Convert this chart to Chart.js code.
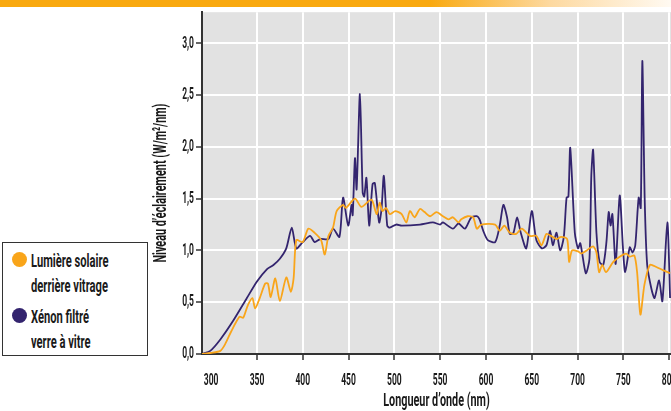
<!DOCTYPE html>
<html>
<head>
<meta charset="utf-8">
<script src="https://cdn.jsdelivr.net/npm/chart.js@4.4.1/dist/chart.umd.min.js"></script>
<style>
  body { margin: 0; background: #fff; }
  #wrap { position: relative; width: 671px; height: 411px; overflow: hidden; }
  #banner {
    position: absolute; left: 0; top: 0; width: 671px; height: 7px; z-index: 2;
    background: linear-gradient(to right, #f9a90f 0%, #f9a90f 64%, #fdd9a0 82%, #fffaf2 100%);
  }
  #legend {
    position: absolute; left: 2px; top: 242px; width: 146px; height: 114px;
    border: 1px solid #333; background: #fff; box-sizing: border-box;
    font-family: Roboto, sans-serif; font-weight: 700;
    font-size: 18px; color: #1a1a1a;
  }
  .item { position: absolute; left: 28px; line-height: 25px; }
  .item span.txt { display: inline-block; transform: scaleX(0.62); transform-origin: left center; white-space: nowrap; }
  .dot { position: absolute; left: -19px; top: 4px; width: 15px; height: 15px; border-radius: 50%; }
</style>
</head>
<body>
<div id="wrap">
  <canvas id="spectrumChart" width="671" height="411"></canvas>
  <div id="banner"></div>
  <div id="legend">
    <div class="item" style="top:5px"><span class="dot" style="background:#f9a51a"></span><span class="txt">Lumière solaire</span><br><span class="txt">derrière vitrage</span></div>
    <div class="item" style="top:61px"><span class="dot" style="background:#33246e"></span><span class="txt">Xénon filtré</span><br><span class="txt">verre à vitre</span></div>
  </div>
</div>
<script>
// Lumière solaire derrière vitrage
const solarNm = [290, 300, 310, 315, 322, 331, 335, 340, 345, 348, 353, 359, 362, 365, 370, 375, 382, 387, 390, 393,
  400, 406, 413, 420, 424, 428, 433, 437, 444, 447, 457, 464, 475, 480.6, 484, 487, 491, 495, 501, 508,
  513, 517, 522, 528, 533, 539, 546, 553, 559, 564, 570, 573, 580, 586, 590, 595, 610, 615, 620, 626,
  633, 639, 648, 655, 660.6, 666, 671, 677, 682, 688.6, 690.8, 694, 700.6, 704, 710, 717, 720.6, 723.5, 727, 731,
  739, 746, 753, 757, 762, 765, 768.6, 773, 779, 786, 793, 801];
const solarLevel = [0, 0.01, 0.03, 0.09, 0.22, 0.36, 0.35, 0.47, 0.54, 0.44, 0.54, 0.68, 0.68, 0.55, 0.73, 0.51, 0.74, 0.60, 0.73, 1.10,
  1.08, 1.21, 1.17, 1.10, 0.96, 1.14, 1.22, 1.38, 1.44, 1.41, 1.50, 1.42, 1.49, 1.35, 1.46, 1.38, 1.41, 1.35, 1.38, 1.35,
  1.27, 1.38, 1.32, 1.40, 1.37, 1.33, 1.37, 1.33, 1.30, 1.32, 1.27, 1.30, 1.33, 1.32, 1.21, 1.25, 1.25, 1.19, 1.24, 1.17,
  1.16, 1.21, 1.14, 1.14, 1.05, 1.16, 1.14, 1.11, 1.13, 1.11, 0.89, 1.00, 0.99, 0.97, 1.00, 1.04, 0.98, 0.79, 0.86, 0.79,
  0.89, 0.94, 0.97, 0.94, 0.95, 0.79, 0.38, 0.67, 0.86, 0.84, 0.81, 0.78];

// Xénon filtré verre à vitre
const xenonNm = [290, 299, 310, 324, 339, 350, 361, 368, 375, 382, 388, 393, 400, 408, 413, 419, 428, 433, 440, 444,
  449.6, 453.3, 454.5, 457, 458.8, 462.4, 465.4, 467.1, 469.5, 472.5, 476.2, 478.7, 483.4, 486, 488.5, 492.2, 495, 502, 508, 528,
  542, 550, 553, 564, 570, 577, 584, 590, 593, 597, 602, 610, 615, 619, 623, 626, 630, 634, 638, 644,
  650, 655, 661, 666, 670, 673, 677, 681, 685, 688, 690, 692, 697, 700.5, 703, 709, 713, 715, 717, 720.6,
  724, 728, 731.5, 734, 736, 738, 741.6, 746, 749.6, 752, 757, 760, 763, 766.7, 769, 770.7, 773.3, 776, 780.6, 784,
  789, 792.6, 798, 801];
const xenonLevel = [0, 0.03, 0.14, 0.32, 0.54, 0.70, 0.82, 0.86, 0.92, 1.02, 1.22, 1.02, 1.08, 1.14, 1.08, 1.11, 1.11, 1.21, 1.13, 1.51,
  1.24, 1.44, 1.34, 1.89, 1.59, 2.51, 1.56, 1.52, 1.70, 1.24, 1.64, 1.65, 1.27, 1.40, 1.72, 1.24, 1.22, 1.25, 1.24, 1.25,
  1.27, 1.25, 1.27, 1.21, 1.26, 1.21, 1.32, 1.33, 1.30, 1.19, 1.10, 1.08, 1.24, 1.44, 1.32, 1.16, 1.17, 1.32, 1.17, 1.02,
  1.38, 1.10, 1.02, 1.05, 1.19, 1.05, 1.17, 1.00, 1.13, 1.51, 1.52, 1.99, 1.17, 1.02, 1.07, 0.78, 0.92, 1.72, 1.97, 1.17,
  0.89, 0.86, 1.08, 1.37, 1.24, 1.35, 0.87, 1.53, 1.02, 0.79, 1.03, 0.98, 1.05, 1.51, 1.41, 2.83, 1.49, 0.86, 0.63, 0.54,
  0.71, 0.51, 1.27, 0.54];

const xTicks = [300, 350, 400, 450, 500, 550, 600, 650, 700, 750, 800];
const yTicks = [0, 0.5, 1, 1.5, 2, 2.5, 3];

const toPoints = (xs, ys) => xs.map((x, i) => ({ x: x, y: ys[i] }));
const fontFamily = "Roboto, sans-serif";

const ctx = document.getElementById("spectrumChart").getContext("2d");

// the original uses a condensed typeface: squeeze labels horizontally
// (fillText maxWidth keeps the alignment). Bigger fonts get squeezed a bit less.
const rawFillText = ctx.fillText;
ctx.fillText = function (text, x, y, maxWidth) {
  const size = parseFloat((this.font.match(/(\d+(\.\d+)?)px/) || [0, 16])[1]);
  const squeeze = size >= 19 ? 0.57 : 0.5;
  const w = this.measureText(text).width * squeeze;
  return rawFillText.call(this, text, x, y, maxWidth === undefined ? w : Math.min(maxWidth, w));
};

// grey plotting area behind the grid
const plotBackground = {
  id: "plotBackground",
  beforeDraw(chart) {
    const a = chart.chartArea;
    chart.ctx.save();
    chart.ctx.fillStyle = "#e2e2e2";
    chart.ctx.fillRect(a.left, a.top, a.right - a.left, a.bottom - a.top);
    chart.ctx.restore();
  }
};

new Chart(ctx, {
  type: "line",
  data: {
    datasets: [{
      label: "Lumière solaire derrière vitrage",
      data: toPoints(solarNm, solarLevel),
      borderColor: "#f9a51a",
      borderWidth: 1.8,
      pointRadius: 0,
      tension: 0.25
    }, {
      label: "Xénon filtré verre à vitre",
      data: toPoints(xenonNm, xenonLevel),
      borderColor: "#33246e",
      borderWidth: 1.8,
      pointRadius: 0,
      tension: 0.25
    }]
  },
  options: {
    responsive: false,
    devicePixelRatio: 1,
    animation: false,
    layout: { padding: { left: 150, top: 7, right: 0, bottom: 0 } },
    plugins: {
      legend: { display: false },
      tooltip: { enabled: false }
    },
    scales: {
      x: {
        type: "linear",
        min: 290,
        max: 802,
        afterBuildTicks: scale => { scale.ticks = xTicks.map(v => ({ value: v })); },
        afterFit: scale => { scale.height = 57; scale.paddingLeft = 0; scale.paddingRight = 0; },
        border: { color: "#333", width: 2 },
        grid: {
          color: c => (c.tick && c.tick.value === 300 ? "rgba(0,0,0,0)" : "#ffffff"),
          tickColor: c => (c.tick && c.tick.value === 300 ? "rgba(0,0,0,0)" : "#333"),
          lineWidth: 2,
          tickLength: 6,
          tickWidth: 1.5
        },
        ticks: {
          color: "#1a1a1a",
          font: { family: fontFamily, size: 17, weight: "700" },
          padding: 11,
          maxRotation: 0,
          autoSkip: false
        },
        title: {
          display: true,
          text: "Longueur d’onde (nm)",
          color: "#1a1a1a",
          font: { family: fontFamily, size: 19, weight: "700" },
          padding: { top: 0, bottom: -2 }
        }
      },
      y: {
        min: 0,
        max: 3.3,
        afterBuildTicks: scale => { scale.ticks = yTicks.map(v => ({ value: v })); },
        afterFit: scale => { scale.width = 52; },
        border: { color: "#333", width: 2 },
        grid: {
          color: "#ffffff",
          tickColor: "#333",
          lineWidth: 2,
          tickLength: 6,
          tickWidth: 1.5
        },
        ticks: {
          color: "#1a1a1a",
          font: { family: fontFamily, size: 17, weight: "700" },
          padding: 2,
          callback: v => v.toFixed(1).replace(".", ",")
        },
        title: {
          display: true,
          text: "Niveau d’éclairement (W/m²/nm)",
          color: "#1a1a1a",
          font: { family: fontFamily, size: 19, weight: "700" },
          padding: { top: 0, bottom: 0 }
        }
      }
    }
  },
  plugins: [plotBackground]
});
</script>
</body>
</html>
